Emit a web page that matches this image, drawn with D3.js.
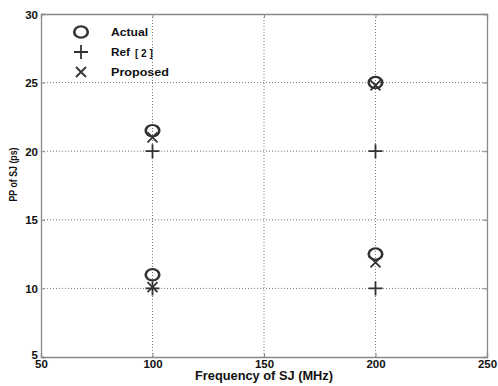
<!DOCTYPE html>
<html>
<head>
<meta charset="utf-8">
<script src="https://cdn.jsdelivr.net/npm/d3@7/dist/d3.min.js"></script>
<style>
  body { margin: 0; background: #fff; }
  svg text { font-family: "Liberation Sans", Arial, Helvetica, sans-serif; font-weight: bold; fill: #111; }
</style>
</head>
<body>
<svg id="chart" width="498" height="386"></svg>
<script>
// Sinusoidal jitter: peak-to-peak amplitude vs. frequency
const frequencies = [100, 100, 200, 200];
const actual   = [21.5, 11.0, 25.0, 12.5];
const ref2     = [20.0, 10.0, 20.0, 10.0];
const proposed = [21.0, 10.1, 24.8, 11.9];
const xTicks = [50, 100, 150, 200, 250];
const yTicks = [5, 10, 15, 20, 25, 30];

const svg = d3.select("#chart");
const margin = { left: 41, right: 11, top: 14, bottom: 29 };
const W = 498, H = 386;

const x = d3.scaleLinear().domain([50, 250]).range([margin.left, W - margin.right]);
const y = d3.scaleLinear().domain([5, 30]).range([H - margin.bottom, margin.top]);

const axisColor = "#888";
const markColor = "#333";

// Dotted grid
const grid = svg.append("g");
grid.selectAll("line.gx").data(xTicks.slice(1, -1)).join("line")
  .attr("x1", d => x(d)).attr("x2", d => x(d))
  .attr("y1", y(5)).attr("y2", y(30))
  .attr("stroke", "#777").attr("stroke-width", 1).attr("stroke-dasharray", "1,2");
grid.selectAll("line.gy").data(yTicks.slice(1, -1)).join("line")
  .attr("x1", x(50)).attr("x2", x(250))
  .attr("y1", d => y(d)).attr("y2", d => y(d))
  .attr("stroke", "#777").attr("stroke-width", 1).attr("stroke-dasharray", "1,2");

// Axes with inward ticks
const xAxis = svg.append("g").attr("transform", `translate(0,${y(5)})`)
  .call(d3.axisBottom(x).tickValues(xTicks).tickSize(-4).tickPadding(5).tickFormat(d3.format("d")));
const yAxis = svg.append("g").attr("transform", `translate(${x(50)},0)`)
  .call(d3.axisLeft(y).tickValues(yTicks).tickSize(-4).tickPadding(3).tickFormat(d3.format("d")));
const xTop = svg.append("g").attr("transform", `translate(0,${y(30)})`)
  .call(d3.axisTop(x).tickValues(xTicks).tickSize(-4).tickFormat(""));
const yRight = svg.append("g").attr("transform", `translate(${x(250)},0)`)
  .call(d3.axisRight(y).tickValues(yTicks).tickSize(-4).tickFormat(""));

[xAxis, yAxis, xTop, yRight].forEach(g => {
  g.selectAll("path.domain").attr("stroke", axisColor).attr("stroke-width", 1.3);
  g.selectAll(".tick line").attr("stroke", axisColor);
  g.selectAll("text").attr("font-size", 11.5).attr("fill", "#111")
    .attr("font-family", "'Liberation Sans', Arial, sans-serif").attr("font-weight", "bold");
});
xAxis.selectAll("text").attr("dy", "0.55em");
yAxis.selectAll("text").attr("dy", "0.35em");
// The lowest y label sits just above the x-axis corner
yAxis.selectAll(".tick").filter(d => d === 5).select("text").attr("dy", "0.1em");

// Axis titles
svg.append("text").attr("x", x(150)).attr("y", 380)
  .attr("text-anchor", "middle").attr("font-size", 12)
  .attr("textLength", 138).attr("lengthAdjust", "spacingAndGlyphs")
  .text("Frequency of SJ (MHz)");
svg.append("text").attr("transform", `translate(17,174.5) rotate(-90)`)
  .attr("text-anchor", "middle").attr("font-size", 10.5)
  .attr("textLength", 54).attr("lengthAdjust", "spacingAndGlyphs")
  .text("PP of SJ (ps)");

// Marker shapes
const circleSym = d3.symbol().type(d3.symbolCircle).size(100);
function plus(g, cx, cy, r) {
  g.append("path").attr("d", `M${cx - r},${cy}H${cx + r}M${cx},${cy - r}V${cy + r}`)
    .attr("stroke", markColor).attr("stroke-width", 1.8).attr("fill", "none");
}
function cross(g, cx, cy, r) {
  g.append("path").attr("d", `M${cx - r},${cy - r}L${cx + r},${cy + r}M${cx - r},${cy + r}L${cx + r},${cy - r}`)
    .attr("stroke", markColor).attr("stroke-width", 1.8).attr("fill", "none");
}

const marks = svg.append("g");
marks.selectAll("path.actual").data(frequencies.map((f, i) => [f, actual[i]])).join("path")
  .attr("class", "actual")
  .attr("transform", d => `translate(${x(d[0])},${y(d[1])}) scale(1.2,1)`)
  .attr("d", circleSym).attr("fill", "none").attr("stroke", markColor).attr("stroke-width", 2.2);
frequencies.forEach((f, i) => plus(marks, x(f), y(ref2[i]), 7));
frequencies.forEach((f, i) => cross(marks, x(f), y(proposed[i]), 5));

// Legend
const legend = svg.append("g");
const seriesNames = ["Actual", "Ref", "Proposed"];
const nameWidths = [37, 19, 58];
const ly = [32, 52, 72];
legend.append("path").attr("transform", `translate(81,${ly[0]}) scale(1.2,1)`)
  .attr("d", circleSym).attr("fill", "none").attr("stroke", markColor).attr("stroke-width", 2.2);
plus(legend, 81, ly[1], 7);
cross(legend, 81, ly[2], 5);
seriesNames.forEach((s, i) => {
  legend.append("text").attr("x", 111).attr("y", ly[i]).attr("dy", "0.35em")
    .attr("font-size", 11.5).attr("textLength", nameWidths[i]).attr("lengthAdjust", "spacingAndGlyphs")
    .text(s);
});
legend.append("text").attr("x", 135).attr("y", ly[1]).attr("dy", "0.45em")
  .attr("font-size", 10).text("[ 2 ]");
</script>
</body>
</html>
